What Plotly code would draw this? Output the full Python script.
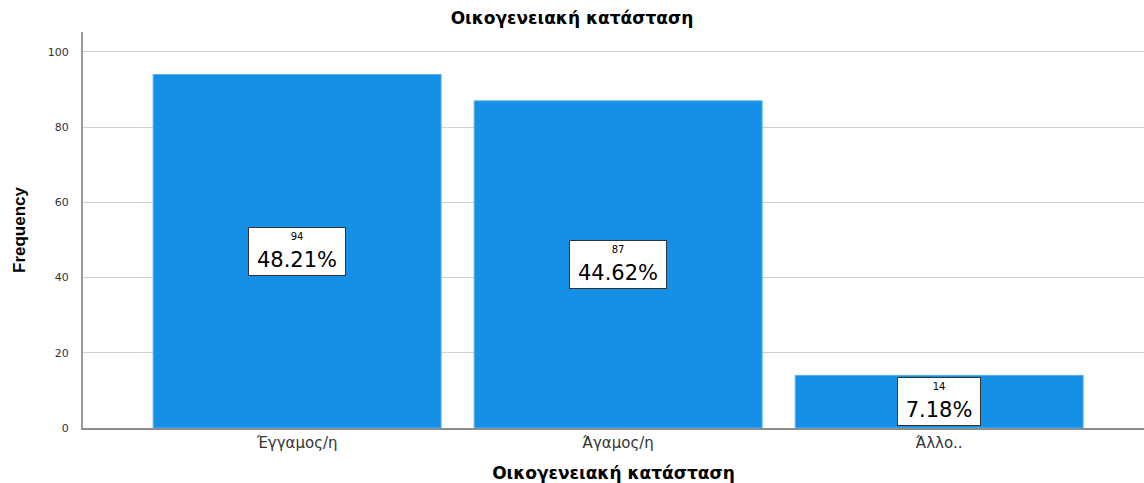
import plotly.graph_objects as go

categories = ["Έγγαμος/η", "Άγαμος/η", "Άλλο.."]
counts = [94, 87, 14]
y_ticks = [0, 20, 40, 60, 80, 100]

total = sum(counts)
percents = [100 * c / total for c in counts]

bar_color = "#1490e6"
font_family = "DejaVu Sans, Verdana, sans-serif"

fig = go.Figure(
    go.Bar(
        x=list(range(len(categories))),
        y=counts,
        width=0.897,
        marker=dict(color=bar_color, line=dict(color="#5db3f0", width=1)),
        hoverinfo="skip",
    )
)

# Count / percentage boxes in the middle of each bar
for i, (c, p) in enumerate(zip(counts, percents)):
    fig.add_annotation(
        x=i,
        y=c / 2,
        xref="x",
        yref="y",
        text=f"<span style='font-size:10px'>{c}</span><br><span style='font-size:21px'>{p:.2f}%</span>",
        showarrow=False,
        bgcolor="white",
        bordercolor="#333333",
        borderwidth=1,
        borderpad=1,
        width=94 if c > 20 else 80,
        height=45,
        font=dict(family=font_family, color="black", size=21),
        align="center",
        valign="middle",
    )

fig.update_layout(
    width=1144,
    height=483,
    margin=dict(l=83, r=0, t=32, b=55),
    plot_bgcolor="white",
    paper_bgcolor="white",
    showlegend=False,
    font=dict(family=font_family, color="#333333"),
    title=dict(
        text="<b>Οικογενειακή κατάσταση</b>",
        x=0.5,
        xanchor="center",
        y=0.962,
        yanchor="middle",
        font=dict(size=17, color="black", family=font_family),
    ),
    xaxis=dict(
        range=[-0.667, 2.638],
        tickmode="array",
        tickvals=list(range(len(categories))),
        ticktext=categories,
        tickfont=dict(size=15, color="#333333"),
        showgrid=False,
        showline=True,
        linecolor="#8c8c8c",
        linewidth=1.5,
        ticks="",
        zeroline=False,
        automargin=False,
        title=dict(
            text="<b>Οικογενειακή κατάσταση</b>",
            font=dict(size=17, color="black"),
            standoff=25,
        ),
    ),
    yaxis=dict(
        range=[0, 105.3],
        tickmode="array",
        tickvals=y_ticks,
        tickfont=dict(size=11, color="#333333"),
        showgrid=True,
        gridcolor="#d0d0d0",
        gridwidth=1,
        showline=True,
        linecolor="#9a9a9a",
        linewidth=2,
        ticks="",
        zeroline=False,
        automargin=False,
        ticklabelstandoff=10,
        title=dict(
            text="<b>Frequency</b>",
            font=dict(size=17, color="black", family="Liberation Sans Narrow, Arial Narrow, Liberation Sans, sans-serif"),
            standoff=18,
        ),
    ),
)

fig.write_html("out.html")
